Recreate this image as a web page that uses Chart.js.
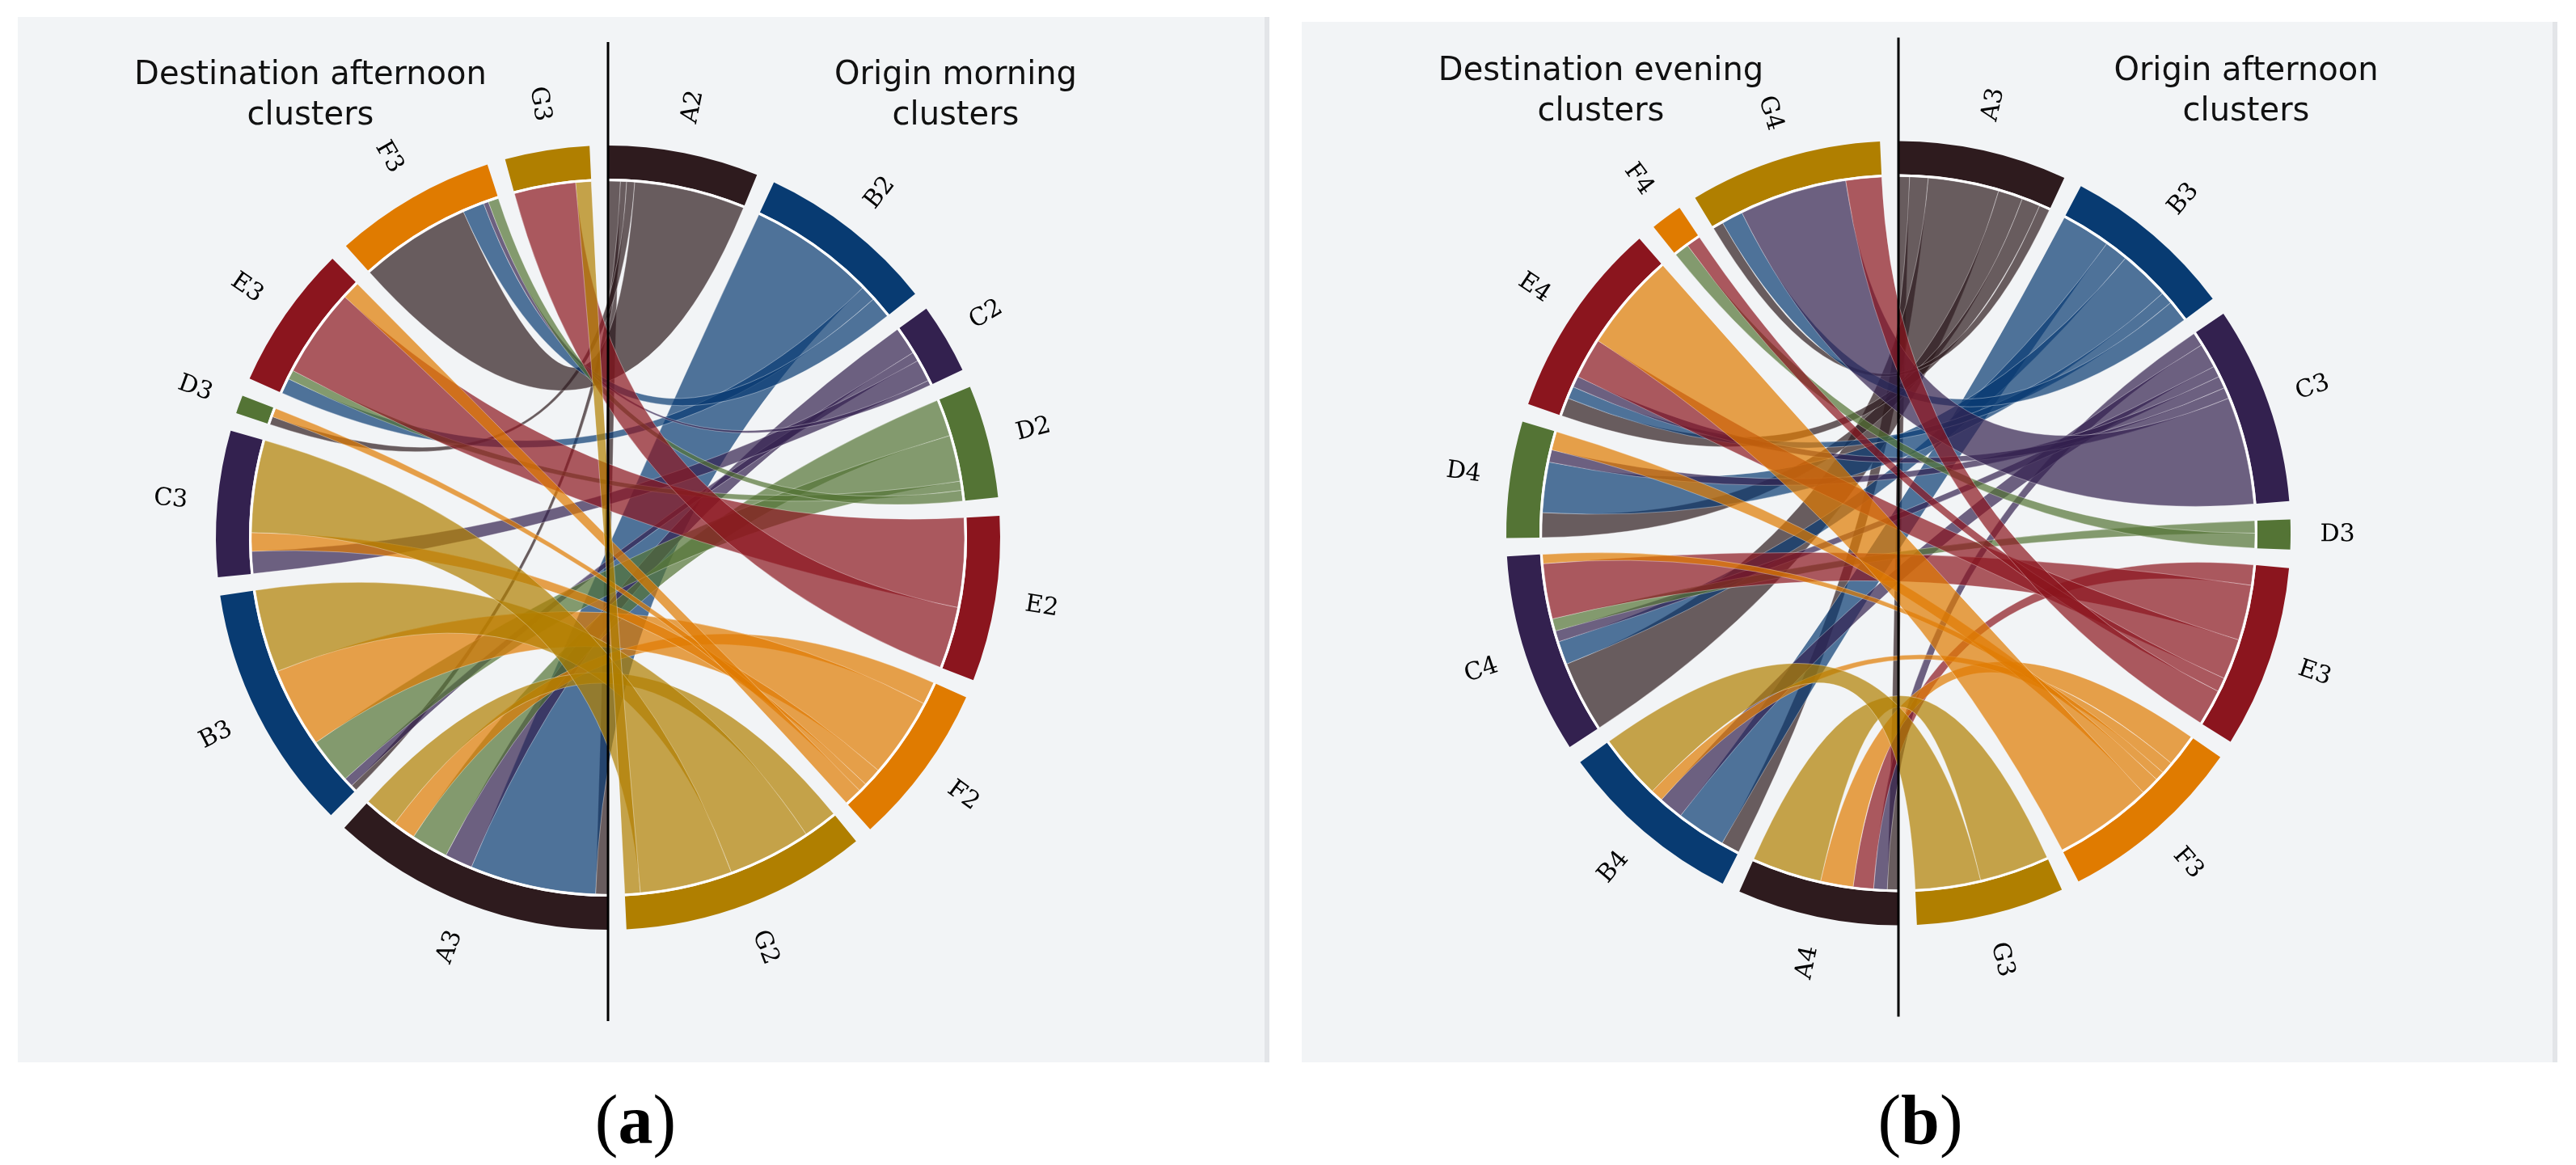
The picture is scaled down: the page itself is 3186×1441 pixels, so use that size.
<!DOCTYPE html>
<html>
<head>
<meta charset="utf-8">
<script src="https://cdn.jsdelivr.net/npm/chart.js@4.4.0/dist/chart.umd.min.js"></script>
<style>
  body { margin: 0; background: #fff; width: 3186px; height: 1441px; position: relative; overflow: hidden; }
  .panel { position: absolute; background: #f2f4f6; border-right: 6px solid #e3e5e8; box-sizing: border-box; }
  .panel canvas { position: absolute; left: 0; top: 0; }
  .cap { position: absolute; width: 300px; text-align: center; color: #000;
         font-family: 'Liberation Serif', serif; font-size: 86px; line-height: 86px; }
</style>
</head>
<body>
<div class="panel" style="left:22px; top:21px; width:1548px; height:1293px;">
  <canvas id="chartA" width="1542" height="1293"></canvas>
</div>
<div class="panel" style="left:1610px; top:27px; width:1553px; height:1287px;">
  <canvas id="chartB" width="1547" height="1287"></canvas>
</div>
<div class="cap" style="left:636px; top:1342px;">(<b>a</b>)</div>
<div class="cap" style="left:2225px; top:1342px;">(<b>b</b>)</div>

<script>
// (a) morning -> afternoon
const originA = ['A2', 'B2', 'C2', 'D2', 'E2', 'F2', 'G2'];
const destA = ['A3', 'B3', 'C3', 'D3', 'E3', 'F3', 'G3'];
// rows: origin cluster, columns: destination cluster
const flowsA = [
  [2.0, 1.0, 0, 1.3, 0, 18.0, 0],
  [20.5, 0, 0, 0, 2.5, 3.5, 0],
  [4.5, 1.5, 3.6, 0, 0, 0.8, 0],
  [6.0, 7.5, 0, 0, 1.5, 1.7, 0],
  [0, 0, 0, 0, 14.5, 0, 10.0],
  [3.7, 13.0, 3.0, 1.4, 2.9, 0, 0],
  [5.5, 13.5, 15.0, 0, 0, 0, 2.5]
];

// (b) afternoon -> evening
const originB = ['A3', 'B3', 'C3', 'D3', 'E3', 'F3', 'G3'];
const destB = ['A4', 'B4', 'C4', 'D4', 'E4', 'F4', 'G4'];
const flowsB = [
  [1.8, 3.0, 11.5, 4.0, 3.0, 0, 1.7],
  [0, 8.0, 3.8, 8.2, 2.0, 0, 3.5],
  [2.2, 4.0, 1.8, 2.0, 1.8, 0, 17.5],
  [0, 0, 2.0, 0, 0, 2.4, 0],
  [3.3, 0, 9.0, 0, 6.6, 2.3, 5.8],
  [5.3, 2.0, 1.5, 3.0, 16.0, 0, 0],
  [11.3, 10.6, 0, 0, 0, 0, 0]
];

const CLUSTER_COLORS = ['#2e1b1e', '#083b72', '#33214f', '#547435', '#8b151e', '#e07b00', '#b07f00'];
const GAP_DEG = 2.7;   // angular gap between arcs
const R_OUT = 485;
const R_IN = 444;
const LABEL_R = 543;

function rgba(hex, a) {
  const n = parseInt(hex.slice(1), 16);
  return `rgba(${(n >> 16) & 255},${(n >> 8) & 255},${n & 255},${a})`;
}

function chordPlugin(flows, names, titles) {
  // cluster k is drawn by element 2k, odd elements are the spacers
  const clusterArcs = chart => chart.getDatasetMeta(0).data.filter((_, i) => i % 2 === 0);
  return {
    id: 'chord',
    afterDatasetsDraw(chart) {
      const ctx = chart.ctx;
      const arcs = clusterArcs(chart);
      const n = flows.length;
      const cx = arcs[0].x, cy = arcs[0].y;
      const r = arcs[0].innerRadius - 3;
      const rowSums = flows.map(row => row.reduce((s, v) => s + v, 0));
      const colSums = flows[0].map((_, j) => flows.reduce((s, row) => s + row[j], 0));
      const pt = a => [cx + r * Math.cos(a), cy + r * Math.sin(a)];

      ctx.save();
      for (let i = 0; i < n; i++) {
        const o = arcs[i];
        const unitO = (o.endAngle - o.startAngle) / rowSums[i];
        let accO = 0;
        for (let j = 0; j < n; j++) {
          const v = flows[i][j];
          if (!v) continue;
          const s0 = o.startAngle + accO * unitO;
          const s1 = s0 + v * unitO;
          accO += v;
          let before = 0;
          for (let k = 0; k < i; k++) before += flows[k][j];
          const d = arcs[n + j];
          const unitD = (d.endAngle - d.startAngle) / colSums[j];
          const t0 = d.startAngle + before * unitD;
          const t1 = t0 + v * unitD;
          const p0 = pt(s0), q0 = pt(t0);
          ctx.beginPath();
          ctx.moveTo(p0[0], p0[1]);
          ctx.arc(cx, cy, r, s0, s1);
          ctx.quadraticCurveTo(cx, cy, q0[0], q0[1]);
          ctx.arc(cx, cy, r, t0, t1);
          ctx.quadraticCurveTo(cx, cy, p0[0], p0[1]);
          ctx.closePath();
          ctx.fillStyle = rgba(CLUSTER_COLORS[i], 0.7);
          ctx.fill();
          ctx.strokeStyle = 'rgba(255,255,255,0.35)';
          ctx.lineWidth = 1;
          ctx.stroke();
        }
      }
      // white rim between arcs and ribbons
      ctx.strokeStyle = '#ffffff';
      ctx.lineWidth = 3;
      arcs.forEach(a => {
        ctx.beginPath();
        ctx.arc(cx, cy, r + 1.5, a.startAngle, a.endAngle);
        ctx.stroke();
      });
      ctx.restore();
    },
    afterDraw(chart) {
      const ctx = chart.ctx;
      const arcs = clusterArcs(chart);
      const cx = arcs[0].x, cy = arcs[0].y;
      ctx.save();
      // cluster labels
      ctx.fillStyle = '#000';
      ctx.font = '30px "DejaVu Serif"';
      ctx.textAlign = 'center';
      ctx.textBaseline = 'middle';
      arcs.forEach((a, k) => {
        const mid = (a.startAngle + a.endAngle) / 2;
        const deg = ((mid + Math.PI / 2) * 180 / Math.PI + 360) % 360;
        ctx.save();
        ctx.translate(cx + LABEL_R * Math.cos(mid), cy + LABEL_R * Math.sin(mid));
        ctx.rotate(deg < 180 ? mid : mid - Math.PI);
        ctx.fillText(names[k], 0, 0);
        ctx.restore();
      });
      // side titles
      ctx.font = '40px "DejaVu Sans"';
      ctx.textBaseline = 'alphabetic';
      ctx.fillStyle = '#111';
      ctx.fillText(titles[0][0], cx - 368, cy - 561);
      ctx.fillText(titles[0][1], cx - 368, cy - 511);
      ctx.fillText(titles[1][0], cx + 430, cy - 561);
      ctx.fillText(titles[1][1], cx + 430, cy - 511);
      // dividing line
      ctx.strokeStyle = '#000';
      ctx.lineWidth = 3;
      ctx.beginPath();
      ctx.moveTo(cx, cy - 613);
      ctx.lineTo(cx, cy + 598);
      ctx.stroke();
      ctx.restore();
    }
  };
}

function chordChart(canvasId, origin, dest, flows, center, titles) {
  const canvas = document.getElementById(canvasId);
  const W = canvas.width, H = canvas.height;
  const half = 520;
  const rowSums = flows.map(row => row.reduce((s, v) => s + v, 0));
  const colSums = dest.map((_, j) => flows.reduce((s, row) => s + row[j], 0));
  const values = rowSums.concat(colSums);
  const names = origin.concat(dest);
  const total = values.reduce((s, v) => s + v, 0);
  // a fixed angular spacer follows every cluster arc
  const spacer = GAP_DEG * total / (360 - values.length * GAP_DEG);
  const data = [], colors = [], labels = [];
  values.forEach((v, k) => {
    data.push(v, spacer);
    colors.push(CLUSTER_COLORS[k % CLUSTER_COLORS.length], 'rgba(0,0,0,0)');
    labels.push(names[k], '');
  });
  return new Chart(canvas, {
    type: 'doughnut',
    data: {
      labels: labels,
      datasets: [{
        data: data,
        backgroundColor: colors,
        borderWidth: 0
      }]
    },
    options: {
      responsive: false,
      animation: false,
      events: [],
      rotation: 0,
      radius: R_OUT,
      cutout: (R_IN / R_OUT * 100) + '%',
      layout: {
        padding: {
          left: center[0] - half,
          right: W - center[0] - half,
          top: center[1] - half,
          bottom: H - center[1] - half
        }
      },
      plugins: {
        legend: { display: false },
        tooltip: { enabled: false }
      }
    },
    plugins: [chordPlugin(flows, names, titles)]
  });
}

chordChart('chartA', originA, destA, flowsA, [730, 644],
  [['Destination afternoon', 'clusters'], ['Origin morning', 'clusters']]);
chordChart('chartB', originB, destB, flowsB, [738, 632.5],
  [['Destination evening', 'clusters'], ['Origin afternoon', 'clusters']]);
</script>
</body>
</html>
